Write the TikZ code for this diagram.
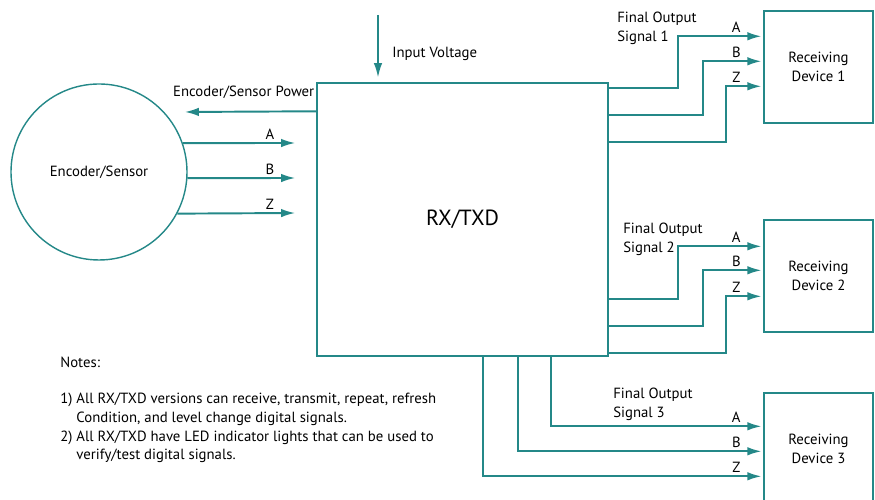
\documentclass[tikz,border=0pt]{standalone}
\usepackage{fontspec}
\setmainfont{PT Sans}
\usetikzlibrary{arrows.meta,positioning}
\definecolor{sigteal}{RGB}{36,136,136}

\begin{document}
\begin{tikzpicture}[>={Latex[length=8pt,width=4.8pt]}, font=\fontsize{8.4}{10.7}\selectfont,
  box/.style={draw=sigteal, line width=0.8pt},
  devbox/.style={box, minimum width=2.18cm, minimum height=2.24cm, align=center},
  sig/.style={->, draw=sigteal, line width=1.1pt, shorten >=1pt},
  lbl/.style={above, xshift=-0.54cm, inner sep=1.5pt}]
  \useasboundingbox (0,0) rectangle (17.5,10);
  \clip (0,0) rectangle (17.5,10);
  % main unit and encoder
  \node[box, minimum width=5.82cm, minimum height=5.46cm, font=\fontsize{12.5}{15}\selectfont] (rx) at (9.25,5.61) {RX/TXD};
  \node[box, circle, minimum size=3.52cm] (enc) at (1.98,6.56) {Encoder/Sensor};
  % receiving devices
  \node[devbox] (dev1) at (16.37,8.66) {Receiving\\Device 1};
  \node[devbox] (dev2) at (16.37,4.48) {Receiving\\Device 2};
  \node[devbox] (dev3) at (16.37,1.02) {Receiving\\Device 3};
  % encoder side
  \coordinate (inA) at (5.94,7.14);
  \coordinate (inB) at (5.94,6.44);
  \coordinate (inZ) at (5.94,5.74);
  \coordinate (pwr) at (3.66,7.76);
  \coordinate (vin) at (7.56,9.7);
  \draw[sig] (enc.19) -- (inA) node[lbl] {A};
  \draw[sig] (enc.-4) -- (inB) node[lbl] {B};
  \draw[sig] (enc.-28) -- (inZ) node[lbl] {Z};
  \draw[sig] ([yshift=-0.58cm]rx.north west) -- (pwr);
  \node[left, inner sep=1pt] (pwrlbl) at ([yshift=-0.2cm]rx.north west) {Encoder/Sensor Power};
  \draw[sig, line width=0.9pt, shorten >=0.1cm] (vin) -- (vin |- rx.north);
  \node[anchor=west, inner sep=0] (vinlbl) at (7.84,8.92) {Input Voltage};
  % outputs
  \foreach \n/\sy/\cx/\dy in {A/0.12/1.7/0.52, B/0.66/1.2/1.02, Z/1.2/0.74/1.52}
    \draw[sig] ([yshift=-\sy cm]rx.north east) -| ([xshift=-\cx cm, yshift=-\dy cm]dev1.north west)
      -- ([yshift=-\dy cm]dev1.north west) node[lbl] {\n};
  \foreach \n/\sy/\cx/\dy in {A/1.16/1.7/0.54, B/0.62/1.2/1.02, Z/0.08/0.74/1.54}
    \draw[sig] ([yshift=\sy cm]rx.south east) -| ([xshift=-\cx cm, yshift=-\dy cm]dev2.north west)
      -- ([yshift=-\dy cm]dev2.north west) node[lbl] {\n};
  \foreach \n/\sx/\dy in {A/4.7/0.68, B/4.04/1.18, Z/3.34/1.68}
    \draw[sig] ([xshift=\sx cm]rx.south west) |- ([yshift=-\dy cm]dev3.north west) node[lbl] {\n};
  \node[anchor=west, align=left, inner sep=0] (fo1) at (12.34,9.43) {Final Output\\Signal 1};
  \node[anchor=west, align=left, inner sep=0] (fo2) at (12.46,5.22) {Final Output\\Signal 2};
  \node[anchor=west, align=left, inner sep=0] (fo3) at (12.26,1.92) {Final Output\\Signal 3};
  % notes
  \node[anchor=west, inner sep=0] (notes) at (1.2,2.76) {Notes:};
  \node[anchor=west, align=left, inner sep=0] (notelist) at (1.2,1.44)
    {1) All RX/TXD versions can receive, transmit, repeat, refresh\\
     \phantom{1) }Condition, and level change digital signals.\\
     2) All RX/TXD have LED indicator lights that can be used to\\
     \phantom{2) }verify/test digital signals.};
\end{tikzpicture}
\end{document}
